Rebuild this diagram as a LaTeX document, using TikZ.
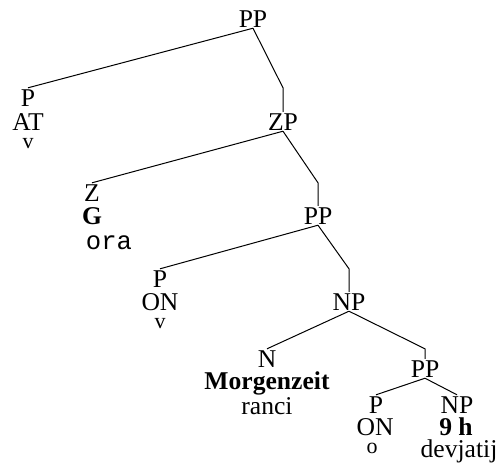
\documentclass[tikz,border=0pt]{standalone}
\usepackage{fontspec}
\setmainfont{Liberation Serif}
\setmonofont{Liberation Mono}

\newcommand{\catfont}{\fontsize{12.8}{14}\selectfont}
\newcommand{\glossfont}{\fontsize{11}{12}\selectfont}

\begin{document}
\begin{tikzpicture}[x=0.5pt,y=-0.5pt,anchor=base,font=\catfont,
    cat/.style={inner sep=0pt,text height=8.5pt,text depth=0pt,outer sep=0.6pt},
    word/.style={inner sep=0pt},
    gloss/.style={inner sep=0pt,font=\glossfont},
    edge/.style={line width=0.5pt}]
    \useasboundingbox (0,0) rectangle (498,463);

    % categories
    \node[cat] (pp1) at (253,27) {PP};
    \node[cat] (p1) at (28,106) {P};
    \node[cat] (zp) at (283,130) {ZP};
    \node[cat] (z) at (92,201) {Z};
    \node[cat] (pp2) at (318,224) {PP};
    \node[cat] (p2) at (160,287) {P};
    \node[cat] (np1) at (349,310) {NP};
    \node[cat] (n) at (267,367) {N};
    \node[cat] (pp3) at (425,377) {PP};
    \node[cat] (p3) at (376,413) {P};
    \node[cat] (np2) at (457,413) {NP};

    % words under the leaves
    \node[word] (at1) at (28,130) {AT};
    \node[gloss] (v1) at (28,148) {v};
    \node[word] (g) at (92,224) {\textbf{G}};
    \node[word] (ora) at (109,249) {\texttt{ora}};
    \node[word] (on2) at (160,310) {ON};
    \node[gloss] (v2) at (160,328) {v};
    \node[word] (mz) at (267,389) {\textbf{Morgenzeit}};
    \node[word] (ranci) at (267,414) {ranci};
    \node[word] (on3) at (375,435) {ON};
    \node[gloss] (o3) at (372,453) {o};
    \node[word] (nineh) at (456,435) {\textbf{9 h}};
    \node[word] (devj) at (459,457) {devjatij};

    % branches
    \draw[edge] (pp1.south) -- (p1.north);
    \draw[edge] (pp1.south) -- (p1.north -| zp.north) -- (zp.north);
    \draw[edge] (zp.south) -- (z.north);
    \draw[edge] (zp.south) -- (z.north -| pp2.north) -- (pp2.north);
    \draw[edge] (pp2.south) -- (p2.north);
    \draw[edge] (pp2.south) -- (p2.north -| np1.north) -- (np1.north);
    \draw[edge] (np1.south) -- (n.north);
    \draw[edge] (np1.south) -- (n.north -| pp3.north) -- (pp3.north);
    \draw[edge] (pp3.south) -- (p3.north);
    \draw[edge] (pp3.south) -- (p3.north -| np2.north) -- (np2.north);
\end{tikzpicture}
\end{document}
